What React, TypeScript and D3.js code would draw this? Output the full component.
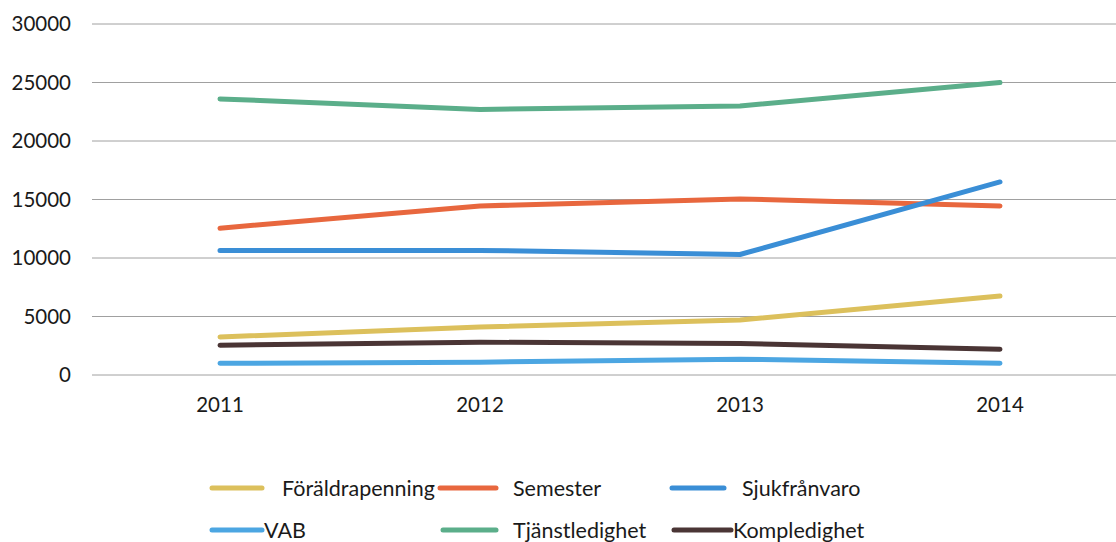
import React from "react";
import * as d3 from "d3";

const years = ["2011", "2012", "2013", "2014"];
const yTicks = [0, 5000, 10000, 15000, 20000, 25000, 30000];

const foraldrapenning = [3250, 4100, 4700, 6750];
const semester = [12550, 14450, 15050, 14450];
const sjukfranvaro = [10650, 10650, 10300, 16500];
const vab = [1000, 1100, 1350, 1000];
const tjanstledighet = [23600, 22700, 23000, 25000];
const kompledighet = [2550, 2800, 2700, 2200];

const seriesNames = ["Föräldrapenning", "Semester", "Sjukfrånvaro", "VAB", "Tjänstledighet", "Kompledighet"];
const seriesValues = [foraldrapenning, semester, sjukfranvaro, vab, tjanstledighet, kompledighet];
const seriesColors = ["#dcc05c", "#e8673e", "#3a8ed6", "#4ca6e2", "#5bae8a", "#4a3535"];

// legend layout: [lineX1, lineX2, textX, rowY]
const legendPos = [
  [212, 262, 282, 488],
  [440, 496, 513, 488],
  [672, 724, 742, 488],
  [212, 262, 264, 530],
  [443, 496, 513, 530],
  [674, 731, 733, 530],
];

export default function App() {
  const W = 1116, H = 542;
  const x = d3.scalePoint<string>().domain(years).range([90, 1130]).padding(0.5);
  const y = d3.scaleLinear().domain([0, 30000]).range([375, 24]);
  const line = d3
    .line<number>()
    .x((_, i) => x(years[i]) as number)
    .y((d) => y(d));
  const font = "Lato, 'Open Sans', sans-serif";
  const fs = 21.5;
  const tfs = 20.5;
  return (
    <svg
      width={W}
      height={H}
      style={{ position: "absolute", left: 0, top: 0, background: "#fff" }}
      fontFamily={font}
    >
      <rect width={W} height={H} fill="#fff" />
      {yTicks.map((t) => (
        <g key={t}>
          <line x1={92} x2={W} y1={y(t)} y2={y(t)} stroke="#a0a0a0" strokeWidth={1} />
          <text x={71} y={y(t)} dy="0.35em" textAnchor="end" fontSize={tfs} fill="#1a1a1a">
            {t}
          </text>
        </g>
      ))}
      {years.map((yr) => (
        <text key={yr} x={x(yr) as number} y={412} textAnchor="middle" fontSize={tfs} fill="#1a1a1a">
          {yr}
        </text>
      ))}
      {seriesValues.map((vals, i) => (
        <path
          key={seriesNames[i]}
          d={line(vals) as string}
          fill="none"
          stroke={seriesColors[i]}
          strokeWidth={5}
          strokeLinecap="round"
          strokeLinejoin="round"
        />
      ))}
      {seriesNames.map((name, i) => {
        const [x1, x2, tx, ry] = legendPos[i];
        return (
          <g key={name}>
            <line x1={x1} x2={x2} y1={ry} y2={ry} stroke={seriesColors[i]} strokeWidth={5} strokeLinecap="round" />
            <text x={tx} y={ry} dy="0.35em" fontSize={fs} fill="#1a1a1a">
              {name}
            </text>
          </g>
        );
      })}
    </svg>
  );
}
